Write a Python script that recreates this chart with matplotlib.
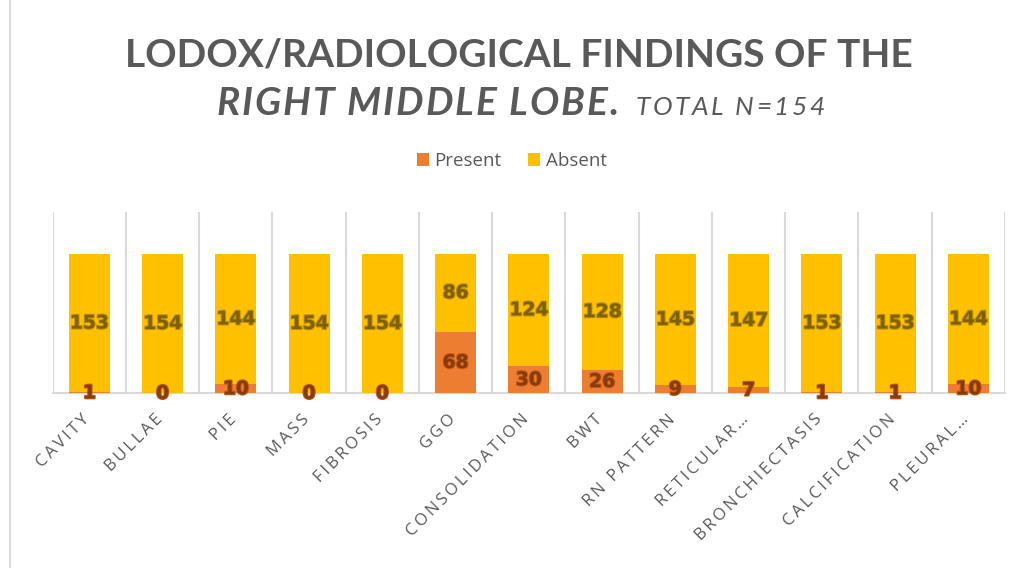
import matplotlib.pyplot as plt
import matplotlib.patheffects as pe
import matplotlib.transforms as mtrans
import numpy as np

categories = ['CAVITY', 'BULLAE', 'PIE', 'MASS', 'FIBROSIS', 'GGO', 'CONSOLIDATION',
              'BWT', 'RN PATTERN', 'RETICULAR…', 'BRONCHIECTASIS', 'CALCIFICATION', 'PLEURAL…']
present = [1, 0, 10, 0, 0, 68, 30, 26, 9, 7, 1, 1, 10]
absent = [153, 154, 144, 154, 154, 86, 124, 128, 145, 147, 153, 153, 144]

c_present = '#ED7D31'
c_absent = '#FFC000'
grey = '#595959'

fig = plt.figure(figsize=(10.23, 5.68), dpi=100)
ax = fig.add_axes([0.0515, 0.3076, 0.9309, 0.3192])
renderer = fig.canvas.get_renderer()


def text_width(s, **kw):
    t = fig.text(0, 0, s, **kw)
    w = t.get_window_extent(renderer).width
    t.remove()
    return w


def spaced_text(x0, y, s, gap, **kw):
    # letter-spaced text, x0 and y in figure pixels (left / baseline)
    for i, ch in enumerate(s):
        if ch == ' ':
            continue
        off = text_width(s[:i + 1], **kw) - text_width(ch, **kw)
        fig.text((x0 + off + i * gap) / 1023, 1 - y / 568, ch, ha='left', va='baseline', **kw)


x = np.arange(len(categories))
ax.bar(x, present, width=0.56, color=c_present, label='Present', zorder=3)
ax.bar(x, absent, width=0.56, bottom=present, color=c_absent, label='Absent', zorder=3)

# data labels, centred in each segment
for i in range(len(x)):
    ax.text(x[i], present[i] / 2, str(present[i]), ha='center', va='center',
            fontsize=13.5, fontweight='bold', color='#843C0C', zorder=5,
            path_effects=[pe.withStroke(linewidth=1.5, foreground='#C55A11')])
    ax.text(x[i], present[i] + absent[i] / 2, str(absent[i]), ha='center', va='center',
            fontsize=13.5, fontweight='bold', color='#7F6000', zorder=5,
            path_effects=[pe.withStroke(linewidth=1.5, foreground='#BF9000')])

ax.set_xlim(-0.5, len(x) - 0.5)
ax.set_ylim(0, 200)
ax.set_yticks([])
for s in ['top', 'right', 'left']:
    ax.spines[s].set_visible(False)
ax.spines['bottom'].set_color('#D9D9D9')
ax.spines['bottom'].set_linewidth(1.5)

# category separators
for b in np.arange(-0.5, len(x), 1.0):
    ax.axvline(b, color='#D9D9D9', linewidth=1.5, zorder=1)

ax.set_xticks(x)
ax.set_xticklabels(['\u2009'.join(c) for c in categories], rotation=45, ha='right',
                   rotation_mode='anchor', fontsize=12, color=grey,
                   family=['Open Sans', 'DejaVu Sans'])
ax.tick_params(axis='x', length=0, pad=13)
shift = mtrans.ScaledTranslation(-8 / 100, 0, fig.dpi_scale_trans)
for lab in ax.get_xticklabels():
    lab.set_transform(lab.get_transform() + shift)

leg = fig.legend(loc='center', bbox_to_anchor=(0.5, 1 - 161 / 568), ncol=2, frameon=False,
                 handlelength=0.65, handleheight=0.65, handletextpad=0.3,
                 columnspacing=1.4, prop={'family': 'Open Sans', 'size': 13.5})
for t in leg.get_texts():
    t.set_color(grey)

fig.text(519 / 1023, 1 - 66 / 568, 'LODOX/RADIOLOGICAL FINDINGS OF THE', ha='center', va='baseline',
         fontsize=28, fontweight='bold', color=grey, family='Lato')
spaced_text(216, 115, 'RIGHT MIDDLE LOBE.', 2.0, fontsize=28, fontweight='bold',
            style='italic', color=grey, family='Lato')
spaced_text(636, 115, 'TOTAL N=154', 2.5, fontsize=19, style='italic', color=grey, family='Lato')

fig.add_artist(plt.Line2D([10 / 1023, 10 / 1023], [0, 1], color='#D9D9D9', linewidth=1.5))

fig.savefig('out.png', dpi=100)
